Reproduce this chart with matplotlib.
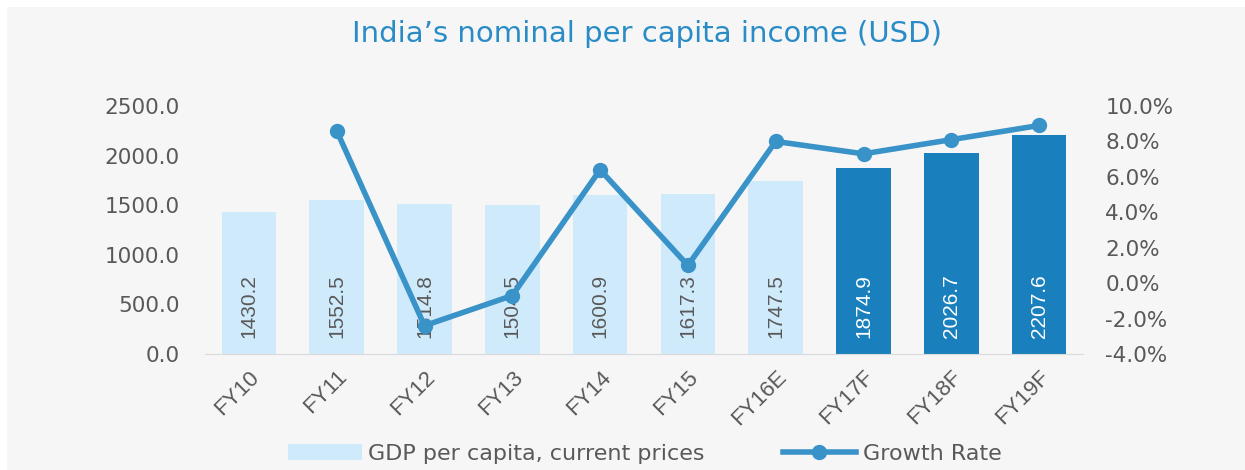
import matplotlib.pyplot as plt
import matplotlib.patches as patches
import numpy as np

years = ["FY10", "FY11", "FY12", "FY13", "FY14", "FY15", "FY16E", "FY17F", "FY18F", "FY19F"]
gdp_per_capita = [1430.2, 1552.5, 1514.8, 1504.5, 1600.9, 1617.3, 1747.5, 1874.9, 2026.7, 2207.6]
growth_rate = [np.nan, 8.6, -2.4, -0.7, 6.4, 1.0, 8.0, 7.3, 8.1, 8.9]
is_forecast = [False, False, False, False, False, False, False, True, True, True]

LIGHT = "#cfeafb"
DARK = "#1a80bd"
LINE = "#3993c8"
TEXT = "#595959"

fig = plt.figure(figsize=(12.45, 4.70), dpi=100, facecolor="white")
fig.patches.append(patches.Rectangle((7 / 1245, 0), 1, 1 - 7 / 470, transform=fig.transFigure,
                                     facecolor="#f6f6f6", edgecolor="none", zorder=-10))

ax = fig.add_axes([205 / 1245, 1 - 354 / 470, (1083 - 205) / 1245, (354 - 106) / 470])
ax.set_facecolor("none")
x = np.arange(len(years))
colors = [DARK if f else LIGHT for f in is_forecast]
bars = ax.bar(x, gdp_per_capita, width=0.62, color=colors, zorder=2,
              label="GDP per capita, current prices")
ax.set_xlim(-0.5, len(years) - 0.5)
ax.set_ylim(0, 2500)
ax.set_yticks(np.arange(0, 2501, 500))
ax.set_yticklabels([f"{v:.1f}" for v in np.arange(0, 2501, 500)], fontsize=15.5, color=TEXT,
                   family="DejaVu Sans")
ax.set_xticks(x)
ax.set_xticklabels(years, rotation=45, ha="right", rotation_mode="anchor", fontsize=16,
                   color=TEXT, family="Liberation Sans")
ax.tick_params(axis="both", length=0)
ax.tick_params(axis="x", pad=9)
ax.tick_params(axis="y", pad=18)
for side in ["top", "right", "left"]:
    ax.spines[side].set_visible(False)
ax.spines["bottom"].set_color("#d9d9d9")

# value labels inside the bars, rotated
for xi, v, f in zip(x, gdp_per_capita, is_forecast):
    ax.text(xi, 160, f"{v:.1f}", rotation=90, ha="center", va="bottom", fontsize=15,
            color="white" if f else TEXT, family=["Liberation Sans Narrow", "Liberation Sans"],
            zorder=3)

ax2 = ax.twinx()
ax2.set_ylim(-4, 10)
pct_ticks = np.arange(-4, 10.1, 2)
ax2.set_yticks(pct_ticks)
ax2.set_yticklabels([f"{v:.1f}%" for v in pct_ticks], fontsize=15.5, color=TEXT,
                    family="DejaVu Sans")
ax2.tick_params(axis="y", length=0, pad=16)
for side in ["top", "right", "left", "bottom"]:
    ax2.spines[side].set_visible(False)
line, = ax2.plot(x, growth_rate, color=LINE, linewidth=4, marker="o", markersize=10,
                 label="Growth Rate", zorder=4)

fig.text(647 / 1245, 1 - 34 / 470, "India\u2019s nominal per capita income (USD)",
         ha="center", va="center", fontsize=21, color="#2a8cc6", family="DejaVu Sans")

fig.legend([bars, line], ["GDP per capita, current prices", "Growth Rate"],
           loc="center", bbox_to_anchor=(645 / 1245, 1 - 454 / 470), ncol=2, frameon=False,
           handlelength=3.3, handletextpad=0.3, columnspacing=3.5,
           labelcolor=TEXT, prop={"family": "DejaVu Sans", "size": 16})

fig.savefig("out.png", dpi=100, facecolor=fig.get_facecolor())
